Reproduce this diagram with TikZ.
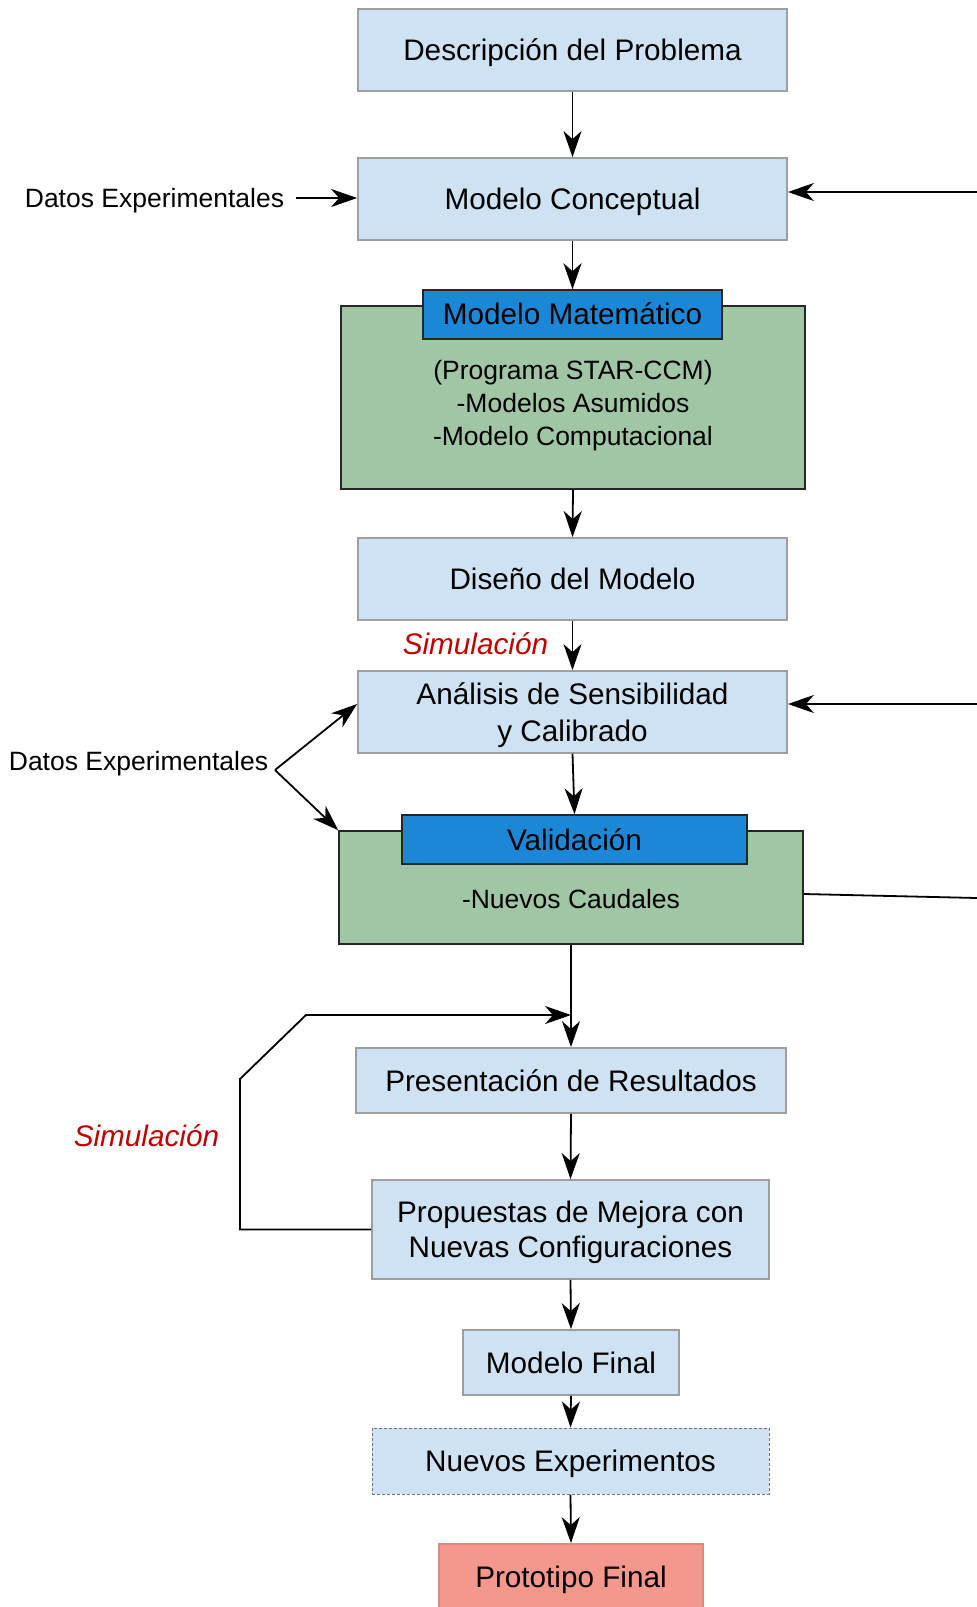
\documentclass[tikz,border=0pt]{standalone}
\usepackage{fontspec}
\setmainfont{Liberation Sans}
\usetikzlibrary{arrows.meta}

\definecolor{cajaAzul}{HTML}{CFE2F3}
\definecolor{bordeGris}{HTML}{9E9E9E}
\definecolor{verdeModelo}{RGB}{160,198,166}
\definecolor{azulCabecera}{RGB}{26,135,215}
\definecolor{rojoProto}{RGB}{244,152,142}
\definecolor{rojoSim}{RGB}{192,0,0}

\begin{document}
\begin{tikzpicture}[x=1pt,y=-1pt,>={Stealth[length=26pt,width=18pt,inset=8pt]},line width=1.8pt,
        paso/.style={draw=bordeGris,fill=cajaAzul,inner sep=0pt,text depth=0pt,align=center,font=\fontsize{29.7}{37}\selectfont},
        modelo/.style={draw=black!85,line width=1.5pt,fill=verdeModelo,inner sep=0pt},
        cabecera/.style={draw=black!85,line width=1.5pt,fill=azulCabecera,inner sep=0pt,font=\fontsize{29.7}{37}\selectfont},
        nota/.style={inner sep=0pt,text depth=0pt,align=center,font=\fontsize{26.5}{33}\selectfont},
        sim/.style={inner sep=0pt,text=rojoSim,font=\fontsize{29.7}{37}\selectfont\itshape}]
        \useasboundingbox (0,0) rectangle (977,1607);

        \node[paso, minimum width=429pt, minimum height=82pt] (desc) at (572.5,50) {Descripción del Problema};
        \node[paso, minimum width=429pt, minimum height=82pt] (conc) at (572.5,199) {Modelo Conceptual};

        \node[modelo, minimum width=464pt, minimum height=183pt] (mat) at (573,397.5) {};
        \node[cabecera, minimum width=299pt, minimum height=49pt] (matH) at (572.5,314.5) {\raisebox{2pt}{Modelo Matemático}};
        \node[nota] (matT) at (573,403) {(Programa STAR-CCM)\\-Modelos Asumidos\\-Modelo Computacional};

        \node[paso, minimum width=429pt, minimum height=82pt] (dis) at (572.5,579) {Diseño del Modelo};
        \node[paso, minimum width=429pt, minimum height=82pt] (anal) at (572.5,712) {Análisis de Sensibilidad\\y Calibrado};

        \node[modelo, minimum width=464pt, minimum height=113pt] (val) at (571,887.5) {};
        \node[cabecera, minimum width=345pt, minimum height=49pt] (valH) at (574.5,839.5) {Validación};
        \node[nota] (valT) at (571,899) {-Nuevos Caudales};

        \node[paso, minimum width=430pt, minimum height=65pt] (pres) at (571,1080.5) {Presentación de Resultados};
        \node[paso, minimum width=397pt, minimum height=99pt, font=\fontsize{29.7}{35}\selectfont] (prop) at (570.5,1229.5) {Propuestas de Mejora con\\Nuevas Configuraciones};
        \node[paso, minimum width=216pt, minimum height=65pt] (final) at (571,1362.5) {Modelo Final};
        \node[paso, draw=black!55, minimum width=397pt, minimum height=66pt, line width=1pt, dash pattern=on 3pt off 2pt] (nuevos) at (570.5,1461) {Nuevos Experimentos};
        \node[paso, draw=rojoProto!90!black, fill=rojoProto, minimum width=264pt, minimum height=66pt] (proto) at (571,1577) {Prototipo Final};

        % datos y etiquetas
        \node[nota, anchor=east, inner xsep=11pt] (datos1) at (296,198) {Datos Experimentales};
        \node[nota, anchor=east] (datos2) at (269,761) {Datos Experimentales};
        \coordinate (horq) at (275,770);
        \node[sim, anchor=east] (sim1) at (549,644) {Simulación};
        \node[sim, anchor=east] (sim2) at (220,1136) {Simulación};

        \coordinate (bordeA) at (977,192);
        \coordinate (bordeB) at (977,704);
        \coordinate (bordeC) at (977,898);
        \coordinate (lazo) at (306,1015);

        \draw[->] (desc.south) -- (conc.north);
        \draw[->] (datos1.east) -- (datos1.east -| conc.west);
        \draw[->] (bordeA) -- (bordeA -| conc.east);
        \draw[->] (conc.south) -- (matH.north);
        \draw[->] (mat.south) -- (dis.north);
        \draw[->] (dis.south) -- (anal.north);
        \draw[->] (bordeB) -- (bordeB -| anal.east);
        \draw[->] (horq) -- ([yshift=8pt]anal.west);
        \draw[->] (horq) -- (val.north west);
        \draw[->] (anal.south) -- (valH.north);
        \draw ([yshift=-6.5pt]val.east) -- (bordeC);
        \draw[->] (val.south) -- (pres.north);

        \draw[->] (prop.west) -| (240,1079) -- (lazo) -- (lazo -| pres.north);

        \draw[->] (pres.south) -- (prop.north);
        \draw[->] (prop.south) -- (final.north);
        \draw[->] (final.south) -- (nuevos.north);
        \draw[->] (nuevos.south) -- (proto.north);
    \end{tikzpicture}
\end{document}
